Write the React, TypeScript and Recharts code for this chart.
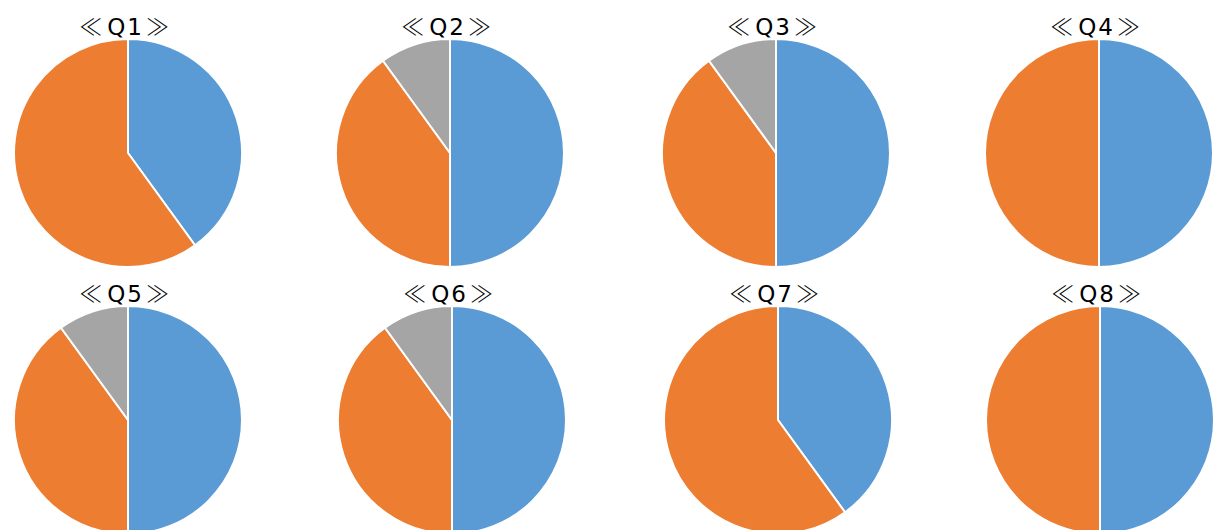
import { PieChart, Pie, Cell } from "recharts";

const questions = ["Q1", "Q2", "Q3", "Q4", "Q5", "Q6", "Q7", "Q8"];
const yesValues = [40, 50, 50, 50, 50, 50, 40, 50];
const noValues = [60, 40, 40, 50, 40, 40, 60, 50];
const otherValues = [0, 10, 10, 0, 10, 10, 0, 0];
const sliceNames = ["Yes", "No", "Other"];

const COLORS = ["#5B9BD5", "#ED7D31", "#A5A5A5"];

// pie centres on the page (x, y)
const centers = [
  [128, 153],
  [450, 153],
  [776, 153],
  [1099, 153],
  [128, 420],
  [452, 420],
  [778, 420],
  [1100, 420],
];

const WIDTH = 1216;
const HEIGHT = 530;
const RADIUS = 114;

const bracketFont = '"Noto Sans CJK JP", "DejaVu Sans", sans-serif';

function sliceData(i: number) {
  return [yesValues[i], noValues[i], otherValues[i]]
    .map((value, k) => ({ name: sliceNames[k], value, color: COLORS[k] }))
    .filter((d) => d.value > 0);
}

export default function App() {
  return (
    <div
      style={{
        position: "absolute",
        left: 0,
        top: 0,
        width: WIDTH,
        height: HEIGHT,
        background: "#fff",
        overflow: "hidden",
      }}
    >
      <PieChart width={WIDTH} height={HEIGHT} margin={{ top: 0, right: 0, bottom: 0, left: 0 }}>
        {questions.map((q, i) => (
          <Pie
            key={q}
            data={sliceData(i)}
            dataKey="value"
            nameKey="name"
            cx={centers[i][0]}
            cy={centers[i][1]}
            outerRadius={RADIUS}
            startAngle={90}
            endAngle={-270}
            stroke="#fff"
            strokeWidth={2}
            isAnimationActive={false}
          >
            {sliceData(i).map((d) => (
              <Cell key={d.name} fill={d.color} />
            ))}
          </Pie>
        ))}
      </PieChart>
      {questions.map((q, i) => (
        <div
          key={q}
          style={{
            position: "absolute",
            left: centers[i][0] - 3 - 80,
            top: centers[i][1] - 128 - 15,
            width: 160,
            textAlign: "center",
            fontFamily: '"DejaVu Sans", "Noto Sans", sans-serif',
            fontSize: 23,
            letterSpacing: 2,
            lineHeight: "30px",
            color: "#000",
            whiteSpace: "nowrap",
          }}
        >
          <span style={{ fontFamily: bracketFont, fontWeight: 300, marginRight: 3 }}>≪</span>
          {q}
          <span style={{ fontFamily: bracketFont, fontWeight: 300, marginLeft: 2 }}>≫</span>
        </div>
      ))}
    </div>
  );
}
